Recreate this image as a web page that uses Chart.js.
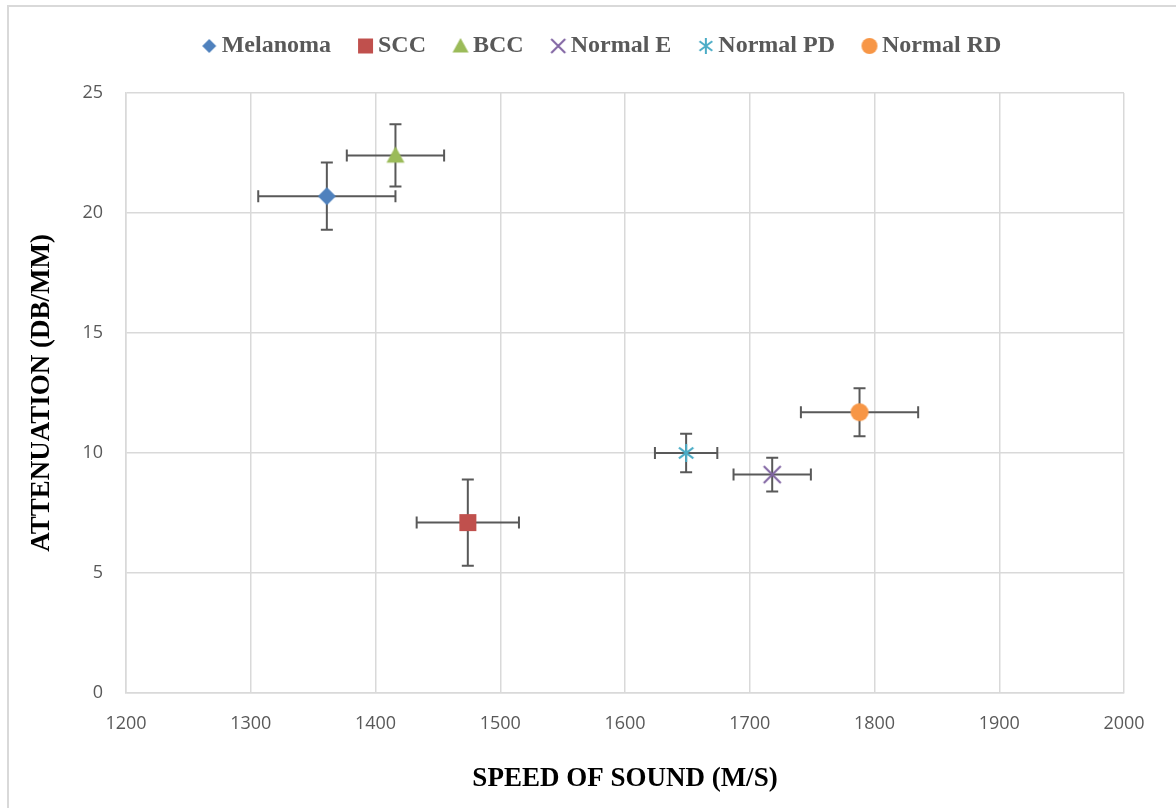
<!DOCTYPE html>
<html>
<head>
<meta charset="utf-8">
<script src="https://cdn.jsdelivr.net/npm/chart.js@4"></script>
<style>
    html, body { margin: 0; padding: 0; background: #fff; overflow: hidden; }
    #frame { position: absolute; left: 7px; top: 5px; width: 1300px; height: 900px; border: 2px solid #d9d9d9; }
    #wrap { position: absolute; left: 0; top: 0; width: 1176px; height: 808px; }
</style>
</head>
<body>
<div id="frame"></div>
<div id="wrap"><canvas id="chart"></canvas></div>
<script>
// Values
const groups = ['Melanoma', 'SCC', 'BCC', 'Normal E', 'Normal PD', 'Normal RD'];
const speedOfSound = [1361, 1474, 1416, 1718, 1649, 1788];
const attenuation = [20.7, 7.1, 22.4, 9.1, 10.0, 11.7];
const speedErr = [55, 41, 39, 31, 25, 47];
const attenErr = [1.4, 1.8, 1.3, 0.7, 0.8, 1.0];
const xTicks = [1200, 1300, 1400, 1500, 1600, 1700, 1800, 1900, 2000];
const yTicks = [0, 5, 10, 15, 20, 25];

const colors = ['#4F81BD', '#C0504D', '#9BBB59', '#8064A2', '#4BACC6', '#F79646'];
const shapes = ['diamond', 'square', 'triangle', 'x', 'star', 'circle'];

// Draw a marker into a small canvas so it can be used as a pointStyle
function makeMarker(shape, color, size) {
    const pad = 2;
    const c = document.createElement('canvas');
    c.width = size + pad * 2;
    c.height = size + pad * 2;
    const ctx = c.getContext('2d');
    const m = c.width / 2;
    const h = size / 2;
    ctx.fillStyle = color;
    ctx.strokeStyle = color;
    ctx.lineWidth = 2;
    ctx.beginPath();
    if (shape === 'diamond') {
        ctx.moveTo(m, m - h); ctx.lineTo(m + h, m); ctx.lineTo(m, m + h); ctx.lineTo(m - h, m);
        ctx.closePath(); ctx.fill();
    } else if (shape === 'square') {
        ctx.rect(m - h, m - h, size, size); ctx.fill();
    } else if (shape === 'triangle') {
        ctx.moveTo(m, m - h); ctx.lineTo(m + h, m + h * 0.8); ctx.lineTo(m - h, m + h * 0.8);
        ctx.closePath(); ctx.fill();
    } else if (shape === 'x') {
        ctx.moveTo(m - h, m - h); ctx.lineTo(m + h, m + h);
        ctx.moveTo(m + h, m - h); ctx.lineTo(m - h, m + h);
        ctx.stroke();
    } else if (shape === 'star') {
        const d = h * 0.8;
        ctx.moveTo(m, m - h); ctx.lineTo(m, m + h);
        ctx.moveTo(m - d, m - d * 0.75); ctx.lineTo(m + d, m + d * 0.75);
        ctx.moveTo(m + d, m - d * 0.75); ctx.lineTo(m - d, m + d * 0.75);
        ctx.stroke();
    } else {
        ctx.arc(m, m, h, 0, Math.PI * 2); ctx.fill();
    }
    return c;
}

const pointSizes = [18, 17, 18, 17, 18, 18];
const legendSizes = [14, 15, 16, 14, 16, 16];
const pointMarks = shapes.map((s, i) => makeMarker(s, colors[i], pointSizes[i]));
const legendMarks = shapes.map((s, i) => makeMarker(s, colors[i], legendSizes[i]));

// Error bars drawn behind the markers
const errorBars = {
    id: 'errorBars',
    beforeDatasetsDraw(chart) {
        const { ctx, scales: { x, y } } = chart;
        const cap = 6;
        ctx.save();
        ctx.strokeStyle = '#595959';
        ctx.lineWidth = 2;
        chart.data.datasets.forEach((ds, i) => {
            const p = ds.data[0];
            const cx = x.getPixelForValue(p.x);
            const cy = y.getPixelForValue(p.y);
            const x0 = x.getPixelForValue(p.x - speedErr[i]);
            const x1 = x.getPixelForValue(p.x + speedErr[i]);
            const y0 = y.getPixelForValue(p.y + attenErr[i]);
            const y1 = y.getPixelForValue(p.y - attenErr[i]);
            ctx.beginPath();
            ctx.moveTo(x0, cy); ctx.lineTo(x1, cy);
            ctx.moveTo(x0, cy - cap); ctx.lineTo(x0, cy + cap);
            ctx.moveTo(x1, cy - cap); ctx.lineTo(x1, cy + cap);
            ctx.moveTo(cx, y0); ctx.lineTo(cx, y1);
            ctx.moveTo(cx - cap, y0); ctx.lineTo(cx + cap, y0);
            ctx.moveTo(cx - cap, y1); ctx.lineTo(cx + cap, y1);
            ctx.stroke();
        });
        ctx.restore();
    }
};

// Empty layout box that leaves some room between legend and plot,
// and a small nudge so the legend sits over the plot like in Excel
const legendGap = {
    id: 'legendGap',
    beforeInit(chart) {
        Chart.layouts.addBox(chart, {
            position: 'top',
            weight: 0,
            fullSize: true,
            options: {},
            top: 0, left: 0, right: 0, bottom: 0, width: 0, height: 0,
            isHorizontal: () => true,
            update(maxWidth) { this.width = maxWidth; this.height = 25; },
            draw() {}
        });
    },
    afterLayout(chart) {
        chart.legend.left += 43;
        chart.legend.right += 43;
    }
};

const tickFont = { family: "'Open Sans', sans-serif", size: 18 };
const titleFont = { family: "'Liberation Serif', 'Times New Roman', serif", size: 27, weight: 'bold' };

new Chart(document.getElementById('chart'), {
    type: 'scatter',
    data: {
        datasets: groups.map((name, i) => ({
            label: name,
            data: [{ x: speedOfSound[i], y: attenuation[i] }],
            pointStyle: pointMarks[i],
            pointRadius: 9,
            backgroundColor: colors[i],
            borderColor: colors[i]
        }))
    },
    options: {
        responsive: true,
        maintainAspectRatio: false,
        animation: false,
        layout: { padding: { top: 0, right: 52, bottom: 0, left: 0 } },
        plugins: {
            tooltip: { enabled: false },
            legend: {
                position: 'top',
                labels: {
                    usePointStyle: true,
                    boxWidth: 1,
                    boxHeight: 14,
                    padding: 34,
                    color: '#595959',
                    font: { family: "'Liberation Serif', 'Times New Roman', serif", size: 24, weight: 'bold' },
                    generateLabels: chart => chart.data.datasets.map((ds, i) => ({
                        text: ds.label,
                        fillStyle: colors[i],
                        strokeStyle: colors[i],
                        fontColor: '#595959',
                        lineWidth: 0,
                        pointStyle: legendMarks[i],
                        hidden: !chart.isDatasetVisible(i),
                        datasetIndex: i
                    }))
                }
            }
        },
        scales: {
            x: {
                type: 'linear',
                min: xTicks[0],
                max: xTicks[xTicks.length - 1],
                afterBuildTicks: s => { s.ticks = xTicks.map(v => ({ value: v })); },
                afterFit: s => { s.height = 115; },
                grid: { color: '#d9d9d9', lineWidth: 1.5, drawTicks: false },
                border: { color: '#d9d9d9', width: 1.5 },
                ticks: { color: '#595959', font: tickFont, padding: 20, maxRotation: 0, callback: v => String(v) },
                title: { display: true, text: 'SPEED OF SOUND (M/S)', color: '#000', font: titleFont, padding: { top: 0, bottom: 13 } }
            },
            y: {
                type: 'linear',
                min: yTicks[0],
                max: yTicks[yTicks.length - 1],
                afterBuildTicks: s => { s.ticks = yTicks.map(v => ({ value: v })); },
                afterFit: s => { s.width = 126; },
                grid: { color: '#d9d9d9', lineWidth: 1.5, drawTicks: false },
                border: { color: '#d9d9d9', width: 1.5 },
                ticks: { color: '#595959', font: tickFont, padding: 23, callback: v => String(v) },
                title: { display: true, text: 'ATTENUATION (DB/MM)', color: '#000', font: titleFont, padding: { top: 26, bottom: 0 } }
            }
        }
    },
    plugins: [errorBars, legendGap]
});
</script>
</body>
</html>
